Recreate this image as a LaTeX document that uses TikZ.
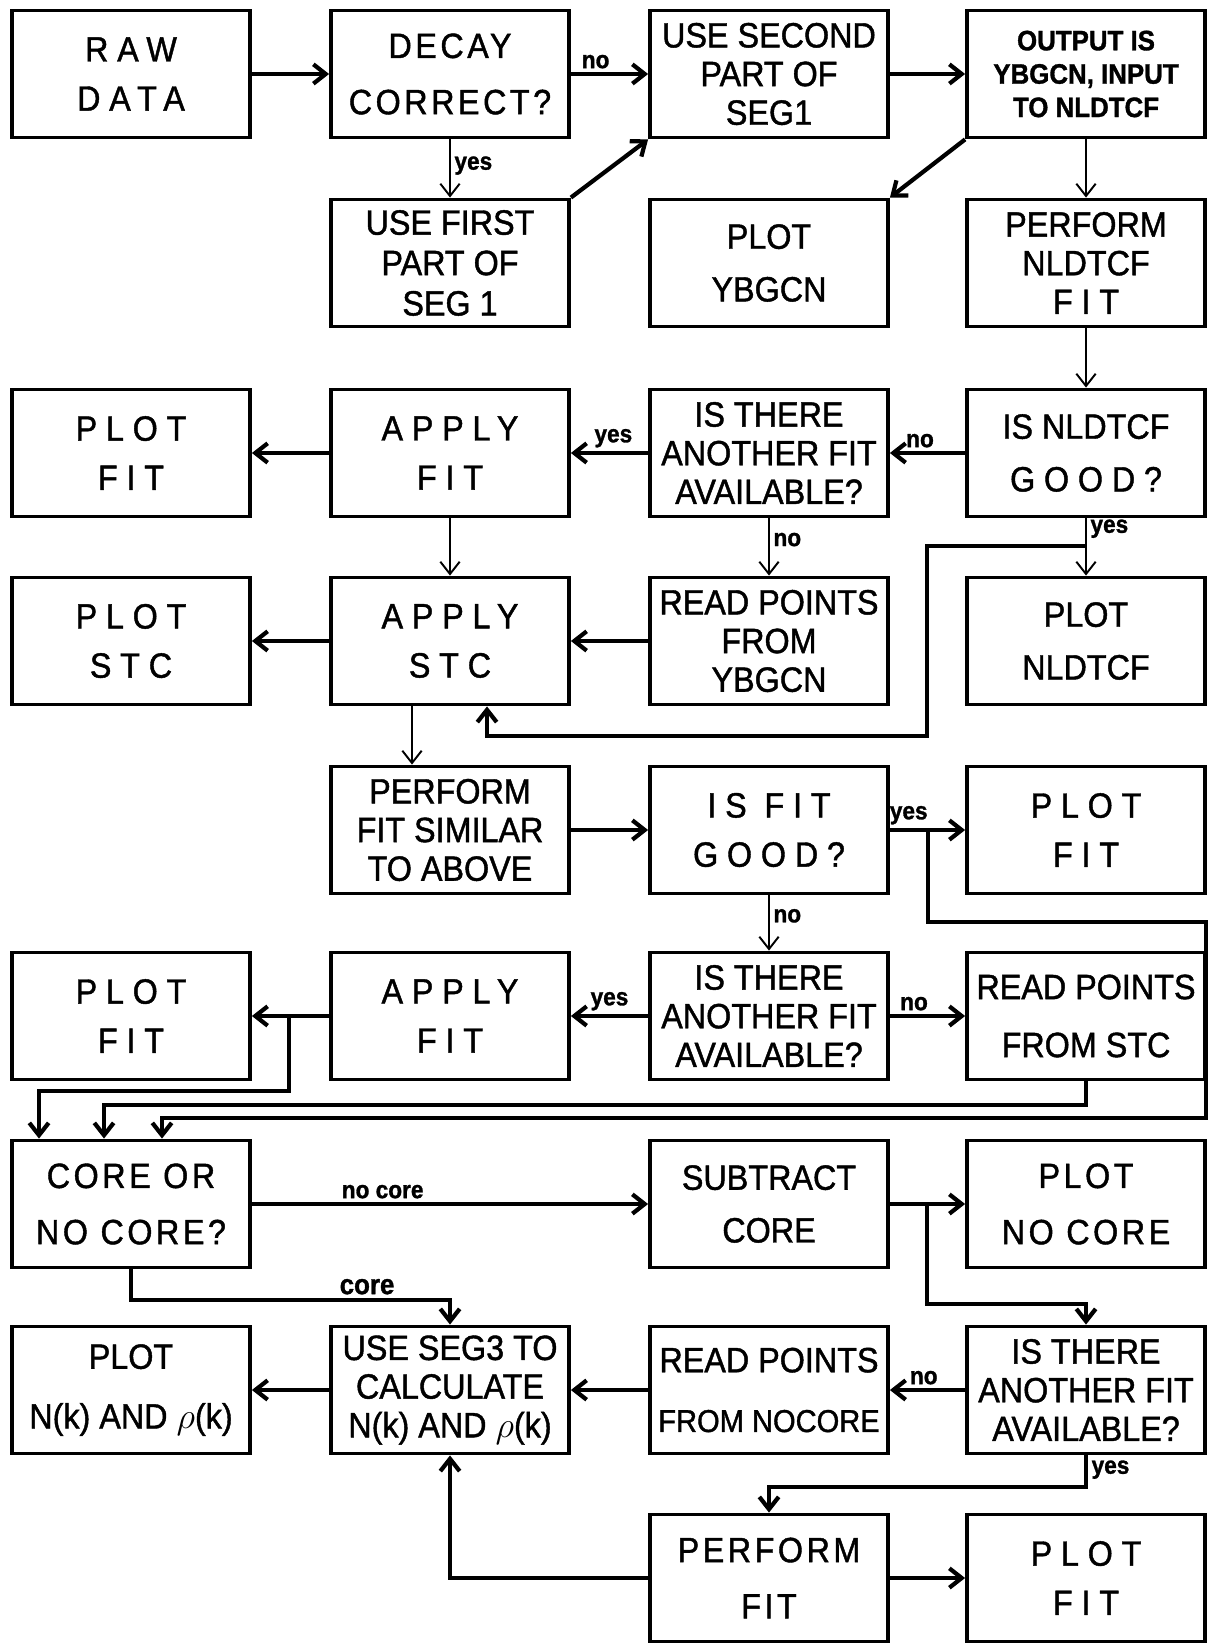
\documentclass[tikz,border=0pt]{standalone}
\usepackage{fontspec}
\setmainfont[FakeStretch=0.92,FakeBold=1.2]{Liberation Sans}
\newfontfamily\spreadfont[FakeStretch=0.92,FakeBold=1.2,LetterSpace=25]{Liberation Sans}
\newfontfamily\semispreadfont[FakeStretch=0.92,FakeBold=1.2,LetterSpace=10]{Liberation Sans}
\usetikzlibrary{arrows.meta}

\tikzset{
  box/.style={draw,line width=2.2pt,minimum width=4.76cm,minimum height=2.54cm,
    align=center,inner sep=1pt,font=\fontsize{20}{22}\selectfont},
  airy/.style={font=\fontsize{20}{30}\selectfont},
  wide/.style={font=\fontsize{20}{28}\selectfont\spreadfont},
  semi/.style={font=\fontsize{20}{32}\selectfont\semispreadfont},
  flow/.style={->,line width=2.4pt},
  down/.style={->,line width=1.1pt},
  lbl/.style={font=\fontsize{14}{16}\selectfont\bfseries,inner sep=2pt}
}

\begin{document}
\begin{tikzpicture}[x=0.02cm,y=-0.02cm,>={Straight Barb[length=7pt,width=11pt]}]
  \useasboundingbox (0,0) rectangle (1208,1648);

  % row 1
  \node[box,wide] (raw) at (131,74) {RAW\\DATA};
  \node[box,semi] (decay) at (450,74) {DECAY\\CORRECT?};
  \node[box] (usesecond) at (769,74) {USE SECOND\\PART OF\\SEG1};
  \node[box,font=\fontsize{16}{19}\selectfont\bfseries] (output) at (1086,74) {OUTPUT IS\\YBGCN, INPUT\\TO NLDTCF};
  % row 2
  \node[box,font=\fontsize{20}{23}\selectfont] (usefirst) at (450,263) {USE FIRST\\PART OF\\SEG 1};
  \node[box,airy] (plotybgcn) at (769,263) {PLOT\\YBGCN};
  \node[box] (perform) at (1086,263) {PERFORM\\NLDTCF\\{\spreadfont FIT}};
  % row 3
  \node[box,wide] (plotfit) at (131,453) {PLOT\\FIT};
  \node[box,wide] (applyfit) at (450,453) {APPLY\\FIT};
  \node[box] (another) at (769,453) {IS THERE\\ANOTHER FIT\\AVAILABLE?};
  \node[box,airy] (nldgood) at (1086,453) {IS NLDTCF\\{\spreadfont GOOD?}};
  % row 4
  \node[box,wide] (plotstc) at (131,641) {PLOT\\STC};
  \node[box,wide] (applystc) at (450,641) {APPLY\\STC};
  \node[box] (readybgcn) at (769,641) {READ POINTS\\FROM\\YBGCN};
  \node[box,airy] (plotnld) at (1086,641) {PLOT\\NLDTCF};
  % row 5
  \node[box] (similar) at (450,830) {PERFORM\\FIT SIMILAR\\TO ABOVE};
  \node[box,wide] (fitgood) at (769,830) {IS FIT\\GOOD?};
  \node[box,wide] (plotfitb) at (1086,830) {PLOT\\FIT};
  % row 6
  \node[box,wide] (plotfitc) at (131,1016) {PLOT\\FIT};
  \node[box,wide] (applyfitb) at (450,1016) {APPLY\\FIT};
  \node[box] (anotherb) at (769,1016) {IS THERE\\ANOTHER FIT\\AVAILABLE?};
  \node[box,font=\fontsize{20}{33}\selectfont] (readstc) at (1086,1016) {READ POINTS\\FROM STC};
  % row 7
  \node[box,semi] (core) at (131,1204) {CORE OR\\NO CORE?};
  \node[box,airy] (subtract) at (769,1204) {SUBTRACT\\CORE};
  \node[box,semi] (plotnocore) at (1086,1204) {PLOT\\NO CORE};
  % row 8
  \node[box,font=\fontsize{20}{34}\selectfont] (plotnk) at (131,1390) {PLOT\\N(k) AND $\rho$(k)};
  \node[box] (useseg3) at (450,1390) {USE SEG3 TO\\CALCULATE\\N(k) AND $\rho$(k)};
  \node[box,font=\fontsize{20}{34}\selectfont] (readnocore) at (769,1390) {READ POINTS\\{\fontsize{18}{34}\selectfont FROM NOCORE}};
  \node[box] (anotherc) at (1086,1390) {IS THERE\\ANOTHER FIT\\AVAILABLE?};
  % row 9
  \node[box,semi] (performfit) at (769,1578) {PERFORM\\FIT};
  \node[box,wide] (plotfitd) at (1086,1578) {PLOT\\FIT};

  % decay correction and first fit
  \draw[flow] (raw) -- (decay);
  \draw[flow] (decay) -- node[lbl,above,pos=0.32] {no} (usesecond);
  \draw[flow] (usesecond) -- (output);
  \draw[down] (decay) -- node[lbl,right,pos=0.45] {yes} (usefirst);
  \draw[flow] (usefirst.north east) -- (usesecond.south west);
  \draw[flow] (output.south west) -- (plotybgcn.north east);
  \draw[down] (output) -- (perform);
  \draw[down] (perform) -- (nldgood);

  % NLDTCF checks
  \draw[flow] (nldgood) -- node[lbl,above,pos=0.6] {no} (another);
  \draw[flow] (another) -- node[lbl,above,pos=0.45] {yes} (applyfit);
  \draw[flow] (applyfit) -- (plotfit);
  \draw[down] (applyfit) -- (applystc);
  \draw[down] (another) -- node[lbl,right,pos=0.37] {no} (readybgcn);
  \draw[down] (nldgood) -- node[lbl,right,pos=0.18] {yes} (plotnld);
  \coordinate (nldyes) at (1086,546);
  \draw[flow] (nldyes) -- (927,546) |- (487,736) -- (487,0 |- applystc.south);

  % STC
  \draw[flow] (readybgcn) -- (applystc);
  \draw[flow] (applystc) -- (plotstc);
  \draw[down] (412,0 |- applystc.south) -- (412,0 |- similar.north);
  \draw[flow] (similar) -- (fitgood);
  \draw[flow] (fitgood) -- node[lbl,above,pos=0.25] {yes} (plotfitb);
  \draw[down] (fitgood) -- node[lbl,right,pos=0.37] {no} (anotherb);
  \coordinate (fityes) at (928,830);
  \draw[flow] (fityes) |- (1206,922) |- (162,1118) -- (core.north -| 162,0);

  \draw[flow] (anotherb) -- node[lbl,above,pos=0.5] {yes} (applyfitb);
  \draw[flow] (anotherb) -- node[lbl,above,pos=0.32] {no} (readstc);
  \draw[flow] (applyfitb) -- (plotfitc);
  \coordinate (fitsplit) at (289,1016);
  \draw[flow] (fitsplit) |- (39,1091) -- (core.north -| 39,0);
  \draw[flow] (readstc.south) |- (104,1105) -- (core.north -| 104,0);

  % core or no core
  \draw[flow] (core) -- node[lbl,above,pos=0.33] {no core} (subtract);
  \draw[flow] (subtract) -- (plotnocore);
  \coordinate (subsplit) at (927,1204);
  \draw[flow] (subsplit) |- (1086,1304) -- (anotherc);
  \draw[flow] (core.south) -- (131,1300) -| node[lbl,font=\fontsize{16}{18}\selectfont\bfseries,above,pos=0.37] {core} (useseg3.north);
  \draw[flow] (anotherc) -- node[lbl,above,pos=0.55] {no} (readnocore);
  \draw[flow] (readnocore) -- (useseg3);
  \draw[flow] (useseg3) -- (plotnk);
  \draw[flow] (anotherc.south) -- node[lbl,right,pos=0.45] {yes} (1086,1487) -| (performfit.north);
  \draw[flow] (performfit) -| (useseg3.south);
  \draw[flow] (performfit) -- (plotfitd);
\end{tikzpicture}
\end{document}
